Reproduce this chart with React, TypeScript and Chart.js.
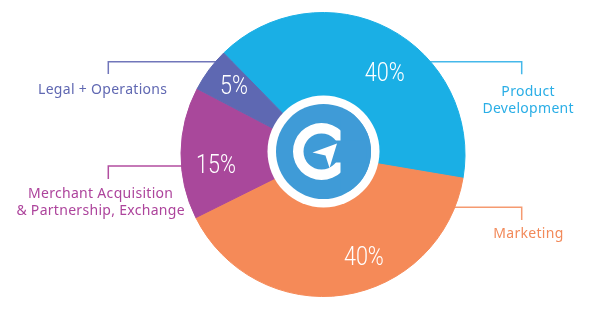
import React, { useEffect, useRef } from "react";
import { Chart, registerables } from "chart.js";

Chart.register(...registerables);

// ---- data ----
const categories = [
  "Product Development",
  "Marketing",
  "Merchant Acquisition & Partnership, Exchange",
  "Legal + Operations",
];
const shares = [40, 40, 15, 5];
const pctLabels = ["40%", "40%", "15%", "5%"];
const calloutLines = [
  ["Product", "Development"],
  ["Marketing"],
  ["Merchant Acquisition", "& Partnership, Exchange"],
  ["Legal + Operations"],
];

// ---- styles ----
const sliceColors = ["#1aafe5", "#f58a58", "#a9489b", "#5e68b2"];
const textColors = ["#2aaee6", "#f28a5a", "#ad449c", "#6068b2"];
const lineColors = ["#45b8ea", "#f59a70", "#b24ea0", "#7176ba"];

// ---- layout (positions of callouts, in canvas px) ----
const calloutLayout = [
  { textX: 528, baselines: [95.7, 112.7], elbowX: 521.7, lineY: 61.7, tailY: 74.3 },
  { textX: 528.3, baselines: [238.3], elbowX: 521.7, lineY: 207.3, tailY: 220 },
  { textX: 100.5, baselines: [198.3, 215], elbowX: 108.3, lineY: 166, tailY: 179 },
  { textX: 102.5, baselines: [94.3], elbowX: 108.3, lineY: 61.7, tailY: 74 },
];
// percentage labels: angle clockwise from top (deg), radius fraction
const pctLayout = [
  { deg: 36.8, r: 0.725 },
  { deg: 158, r: 0.768 },
  { deg: 264.9, r: 0.757 },
  { deg: 308.1, r: 0.797 },
];

const calloutPlugin = {
  id: "callouts",
  beforeDatasetsDraw(chart: any) {
    const meta = chart.getDatasetMeta(0);
    const arc = meta.data[0];
    if (!arc) return;
    const cx = arc.x;
    const ctx = chart.ctx;
    ctx.save();
    calloutLayout.forEach((l, i) => {
      ctx.strokeStyle = lineColors[i];
      ctx.lineWidth = 1.5;
      ctx.beginPath();
      ctx.moveTo(l.elbowX, l.tailY);
      ctx.lineTo(l.elbowX, l.lineY);
      ctx.lineTo(cx, l.lineY);
      ctx.stroke();
    });
    ctx.restore();
  },
  afterDraw(chart: any) {
    const ctx = chart.ctx;
    ctx.save();
    ctx.font = '14px "Noto Sans"';
    (ctx as any).letterSpacing = "0.3px";
    ctx.textAlign = "center";
    ctx.textBaseline = "alphabetic";
    calloutLayout.forEach((l, i) => {
      ctx.fillStyle = textColors[i];
      calloutLines[i].forEach((t, j) => {
        ctx.fillText(t, l.textX + 0.15, l.baselines[j]);
      });
    });
    ctx.restore();
  },
};

const pctPlugin = {
  id: "pct",
  afterDatasetsDraw(chart: any) {
    const meta = chart.getDatasetMeta(0);
    const ctx = chart.ctx;
    ctx.save();
    ctx.fillStyle = "#ffffff";
    ctx.textAlign = "center";
    ctx.textBaseline = "alphabetic";
    const fs = 26;
    ctx.font = `300 ${fs}px Roboto`;
    meta.data.forEach((arc: any, i: number) => {
      const p = pctLayout[i];
      const th = (p.deg * Math.PI) / 180;
      const r = p.r * arc.outerRadius;
      const x = arc.x + r * Math.sin(th);
      const y = arc.y - r * Math.cos(th);
      ctx.save();
      ctx.translate(x, y + (fs * 0.711) / 2);
      ctx.scale(0.83, 1);
      ctx.fillText(pctLabels[i], 0, 0);
      ctx.restore();
    });
    ctx.restore();
  },
};

const logoPlugin = {
  id: "logo",
  afterDatasetsDraw(chart: any) {
    const arc = chart.getDatasetMeta(0).data[0];
    if (!arc) return;
    const ctx = chart.ctx;
    const lx = arc.x + 0.5;
    const ly = arc.y - 3;
    const blue = "#3f9bd7";
    ctx.save();
    // white ring
    ctx.fillStyle = "#ffffff";
    ctx.beginPath();
    ctx.arc(lx, ly, 56, 0, Math.PI * 2);
    ctx.fill();
    // blue disc
    ctx.fillStyle = blue;
    ctx.beginPath();
    ctx.arc(lx, ly, 47.5, 0, Math.PI * 2);
    ctx.fill();
    // C
    const ccx = lx - 2;
    const ccy = ly;
    ctx.fillStyle = "#ffffff";
    ctx.beginPath();
    ctx.arc(ccx, ccy, 28.5, 0, Math.PI * 2);
    ctx.arc(ccx, ccy, 18, 0, Math.PI * 2, true);
    ctx.fill("evenodd");
    // cut opening
    ctx.fillStyle = blue;
    ctx.save();
    ctx.beginPath();
    ctx.arc(lx, ly, 47.5, 0, Math.PI * 2);
    ctx.clip();
    ctx.fillRect(ccx + 19, ccy - 40, 40, 80);
    ctx.fillRect(ccx + 5, ccy - 11, 40, 22);
    ctx.restore();
    // paper plane
    ctx.fillStyle = "#ffffff";
    ctx.beginPath();
    ctx.moveTo(lx + 13.5, ly - 8);
    ctx.lineTo(lx - 11, ly + 1);
    ctx.lineTo(lx + 2, ly + 4);
    ctx.lineTo(lx + 6, ly + 16.5);
    ctx.closePath();
    ctx.fill();
    ctx.restore();
  },
};

export default function App() {
  const ref = useRef<HTMLCanvasElement | null>(null);
  useEffect(() => {
    if (!ref.current) return;
    const chart = new Chart(ref.current, {
      type: "pie",
      data: {
        labels: categories,
        datasets: [
          {
            data: shares,
            backgroundColor: sliceColors,
            borderColor: sliceColors,
            borderWidth: 1,
            hoverOffset: 0,
          },
        ],
      },
      options: {
        animation: false,
        responsive: false,
        events: [],
        rotation: -44.4,
        layout: { padding: { left: 180.5, right: 150.5, top: 12, bottom: 35 } },
        plugins: { legend: { display: false }, tooltip: { enabled: false } },
      },
      plugins: [calloutPlugin, pctPlugin, logoPlugin],
    } as any);
    return () => chart.destroy();
  }, []);
  return (
    <div style={{ position: "absolute", left: 0, top: 0, width: 616, height: 332, background: "#ffffff" }}>
      <canvas ref={ref} width={616} height={332} style={{ width: 616, height: 332, display: "block" }} />
    </div>
  );
}
